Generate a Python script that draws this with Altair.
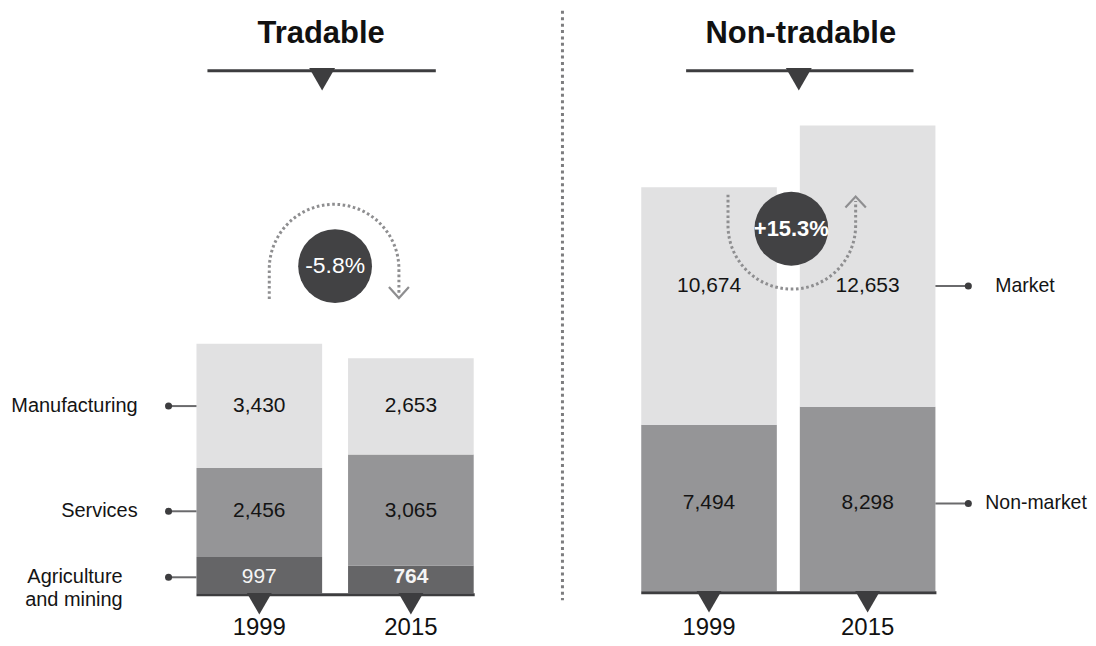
import altair as alt
import pandas as pd

# ---------------- data ----------------
years = ["1999", "2015"]

tradable_categories = ["Agriculture and mining", "Services", "Manufacturing"]
tradable_labels = ["Agriculture\nand mining", "Services", "Manufacturing"]
agriculture_mining = [997, 764]
services = [2456, 3065]
manufacturing = [3430, 2653]

nontradable_categories = ["Non-market", "Market"]
nontradable_labels = ["Non-market", "Market"]
non_market = [7494, 8298]
market = [10674, 12653]

panel_titles = ["Tradable", "Non-tradable"]

FONT = "Liberation Sans"
DARK = "#3d3d3f"
ARC_GREY = "#8e8e90"


def long_table(categories, labels, series):
    rows = []
    for order, (cat, lab, vals) in enumerate(zip(categories, labels, series)):
        for yr, v in zip(years, vals):
            rows.append({"year": yr, "category": cat, "label": lab,
                         "value": v, "order": order})
    return pd.DataFrame(rows)


def change_text(series):
    t0 = sum(s[0] for s in series)
    t1 = sum(s[1] for s in series)
    return f"{(t1 - t0) / t0 * 100:+.1f}%"


left_df = long_table(tradable_categories, tradable_labels,
                     [agriculture_mining, services, manufacturing])
right_df = long_table(nontradable_categories, nontradable_labels,
                      [non_market, market])
left_change = pd.DataFrame({"change": [change_text([agriculture_mining, services, manufacturing])]})
right_change = pd.DataFrame({"change": [change_text([non_market, market])]})
left_title = pd.DataFrame({"title": [panel_titles[0]]})
right_title = pd.DataFrame({"title": [panel_titles[1]]})
one = pd.DataFrame({"k": [0]})


def stacked(df):
    return (alt.Chart(df)
            .transform_stack(stack="value", groupby=["year"], as_=["v0", "v1"],
                             sort=[alt.SortField("order", order="ascending")])
            .transform_calculate(mid="(datum.v0 + datum.v1) / 2")
            .transform_joinaggregate(lab="mean(mid)", groupby=["category"]))


ARC_LEFT = "M -1 0.46 L -1 0 C -1 -0.5523 -0.5523 -1 0 -1 C 0.5523 -1 1 -0.5523 1 0 L 1 0.40"
ARROW_DOWN = "M 0.846 0.277 L 1 0.446 L 1.154 0.277"
ARC_RIGHT = "M -1 -0.48 L -1 0 C -1 0.5523 -0.5523 1 0 1 C 0.5523 1 1 0.5523 1 0 L 1 -0.38"
ARROW_UP = "M 0.84 -0.28 L 1 -0.45 L 1.16 -0.28"

H = 630


def panel(df, categories, colors, x_range, pad_inner, y_max, y_base,
          title_df, title_x, underline, change_df, circle_xy, change_bold,
          arc_xy, arc_size, arc_path, arrow_path, connector, label_side,
          width, extra_layers=None):
    base = stacked(df)
    xs = alt.Scale(range=x_range, paddingInner=pad_inner, paddingOuter=0)
    ys = alt.Scale(domain=[0, y_max], range=[y_base, 0], nice=False, zero=True)
    X = alt.X("year:N", scale=xs, axis=None)
    cs = alt.Scale(domain=categories, range=colors)

    bars = base.mark_bar().encode(
        x=X,
        y=alt.Y("v0:Q", scale=ys, axis=None),
        y2="v1:Q",
        color=alt.Color("category:N", scale=cs, legend=None),
    )
    baseline = base.transform_filter("datum.order == 0 && datum.year == '1999'").mark_rule(
        strokeWidth=3, color=DARK, yOffset=1.5
    ).encode(x=alt.value(x_range[0]), x2=alt.value(x_range[1] + 1),
             y=alt.Y("v0:Q", scale=ys, axis=None))
    tri = base.transform_filter("datum.order == 0").mark_point(
        shape="triangle-down", size=625, filled=True, color=DARK, opacity=1, yOffset=10.5
    ).encode(x=X, y=alt.Y("v0:Q", scale=ys, axis=None))
    year_lbl = base.transform_filter("datum.order == 0").mark_text(
        fontSize=24, baseline="alphabetic", color="#111111", font=FONT
    ).encode(x=X, y=alt.value(627), text="year:N")

    bold_test = "datum.category == 'Agriculture and mining' && datum.year == '2015'"
    val_norm = base.transform_filter("!(" + bold_test + ")").mark_text(
        fontSize=21, font=FONT
    ).encode(
        x=X, y=alt.Y("lab:Q", scale=ys, axis=None),
        text=alt.Text("value:Q", format=","),
        color=alt.condition("datum.category == 'Agriculture and mining'",
                            alt.value("#f5f5f5"), alt.value("#141414")),
    )
    val_bold = base.transform_filter(bold_test).mark_text(
        fontSize=21, font=FONT, fontWeight="bold", color="#f5f5f5"
    ).encode(x=X, y=alt.Y("lab:Q", scale=ys, axis=None),
             text=alt.Text("value:Q", format=","))

    conn_year, bar_edge, dot_x = connector
    conn = base.transform_filter(f"datum.year == '{conn_year}'")
    conn_rule = conn.mark_rule(color="#6a6a6c", strokeWidth=2).encode(
        x=alt.value(dot_x), x2=alt.value(bar_edge),
        y=alt.Y("lab:Q", scale=ys, axis=None))
    conn_dot = conn.mark_point(shape="circle", filled=True, size=50, color=DARK, opacity=1).encode(
        x=alt.value(dot_x), y=alt.Y("lab:Q", scale=ys, axis=None))

    label_layers = []
    for (flt, align, lx, fs) in label_side:
        label_layers.append(
            conn.transform_filter(flt).mark_text(
                align=align, fontSize=fs, font=FONT, color="#141414",
                lineBreak="\n", lineHeight=23
            ).encode(x=alt.value(lx), y=alt.Y("lab:Q", scale=ys, axis=None), text="label:N")
        )

    title = alt.Chart(title_df).mark_text(
        fontSize=31, fontWeight="bold", font=FONT, baseline="alphabetic", color="#111111"
    ).encode(text="title:N", x=alt.value(title_x), y=alt.value(33))
    ux0, ux1, tri_x = underline
    title_rule = alt.Chart(one).mark_rule(strokeWidth=3, color=DARK).encode(
        x=alt.value(ux0), x2=alt.value(ux1), y=alt.value(61))
    title_tri = alt.Chart(one).mark_point(
        shape="triangle-down", size=676, filled=True, color=DARK, opacity=1
    ).encode(x=alt.value(tri_x), y=alt.value(69.5))

    arc = alt.Chart(one).mark_point(
        shape=arc_path, size=arc_size, filled=False, color=ARC_GREY, opacity=1,
        strokeWidth=3, strokeDash=[2.6, 2.6]
    ).encode(x=alt.value(arc_xy[0]), y=alt.value(arc_xy[1]))
    arrow = alt.Chart(one).mark_point(
        shape=arrow_path, size=arc_size, filled=False, color=ARC_GREY, opacity=1,
        strokeWidth=2.2
    ).encode(x=alt.value(arc_xy[0]), y=alt.value(arc_xy[1]))
    circ = alt.Chart(one).mark_point(
        shape="circle", size=5476, filled=True, color="#424244", opacity=1
    ).encode(x=alt.value(circle_xy[0]), y=alt.value(circle_xy[1]))
    circ_txt = alt.Chart(change_df).mark_text(
        fontSize=23 if not change_bold else 22,
        fontWeight="bold" if change_bold else "normal",
        font=FONT, color="#ffffff"
    ).encode(text="change:N", x=alt.value(circle_xy[0]), y=alt.value(circle_xy[1]))

    layers = [bars, baseline, tri, year_lbl, val_norm, val_bold, conn_rule, conn_dot,
              *label_layers, title, title_rule, title_tri, arc, arrow, circ, circ_txt]
    if extra_layers:
        layers += extra_layers
    return alt.layer(*layers).properties(width=width, height=H)


divider = alt.Chart(one).mark_rule(
    strokeWidth=3, color="#7d7d7f", strokeDash=[3, 3.4]
).encode(x=alt.value(556), y=alt.value(1), y2=alt.value(592))

left = panel(
    left_df, tradable_categories, ["#656567", "#959597", "#e1e1e2"],
    x_range=[189, 467], pad_inner=0.171, y_max=585 * 27.5, y_base=585,
    title_df=left_title, title_x=314, underline=(200, 429, 315),
    change_df=left_change, circle_xy=(328, 257), change_bold=False,
    arc_xy=(327, 260), arc_size=16900, arc_path=ARC_LEFT, arrow_path=ARROW_DOWN,
    connector=("1999", 189, 161),
    label_side=[("datum.order != 0", "right", 130, 20), ("datum.order == 0", "right", 115, 20)],
    width=555, extra_layers=[divider],
)

right = panel(
    right_df, nontradable_categories, ["#959597", "#e1e1e2"],
    x_range=[77, 372], pad_inner=0.145, y_max=583 * 44.85, y_base=583,
    title_df=right_title, title_x=237, underline=(122, 350, 235),
    change_df=right_change, circle_xy=(227.5, 219.5), change_bold=True,
    arc_xy=(228, 216), arc_size=16384, arc_path=ARC_RIGHT, arrow_path=ARROW_UP,
    connector=("2015", 372, 405),
    label_side=[("datum.order == 1", "left", 432, 19.5), ("datum.order == 0", "left", 422, 19.5)],
    width=525,
)

chart = (
    alt.hconcat(left, right, spacing=0)
    .resolve_scale(color="independent")
    .properties(padding=0)
    .configure(font=FONT)
    .configure_view(strokeWidth=0, stroke=None)
)

chart.save("out.html", embed_options={"renderer": "svg", "actions": False})
